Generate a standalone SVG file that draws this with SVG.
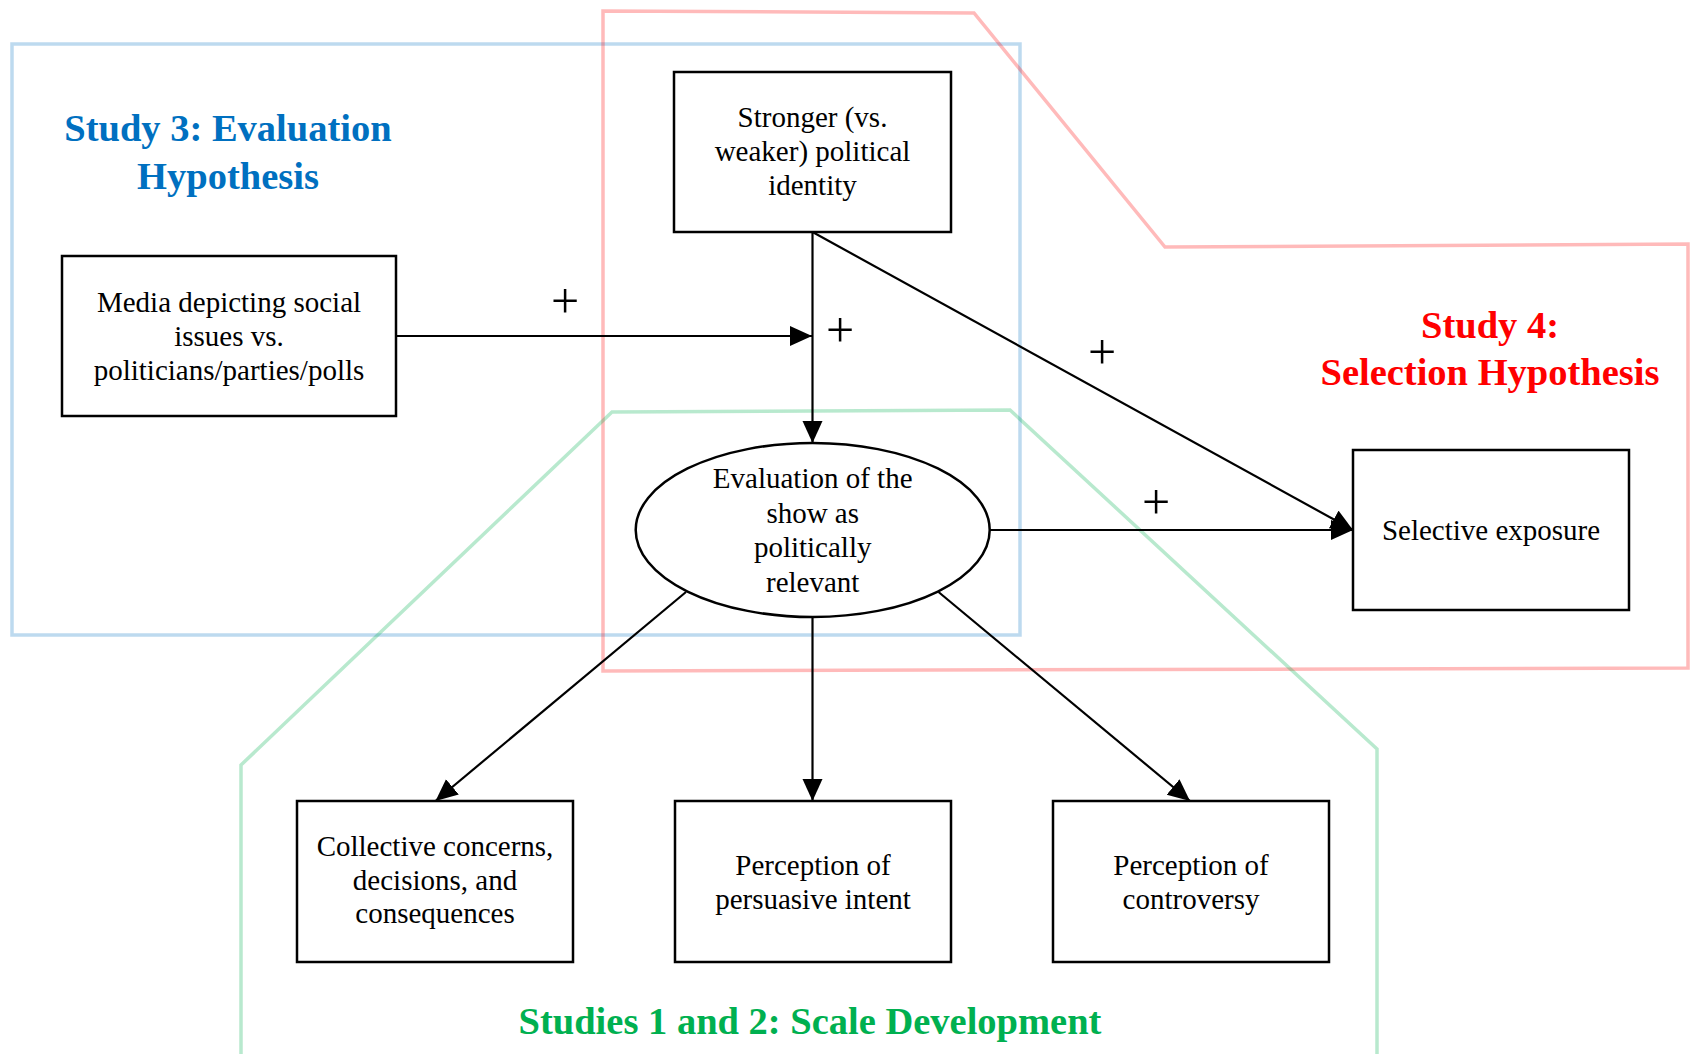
<svg xmlns="http://www.w3.org/2000/svg" width="1690" height="1054" viewBox="0 0 1690 1054">
<style>
.node{fill:#fff;stroke:#000;stroke-width:2.5}
.t{font-family:"Liberation Serif","Times New Roman",serif;font-size:29px;fill:#000;text-anchor:middle}
.title{font-family:"Liberation Serif","Times New Roman",serif;font-size:38.5px;font-weight:bold;text-anchor:middle}
.plus{font-family:"Liberation Serif","Times New Roman",serif;font-size:50px;fill:#000;text-anchor:middle}
.edge{fill:none;stroke:#000;stroke-width:2.2;marker-end:url(#ah)}
.grp{fill:none;stroke-width:3.5}
</style>
<defs>
<marker id="ah" markerUnits="userSpaceOnUse" markerWidth="24" markerHeight="22" refX="22" refY="10" orient="auto">
<path d="M0,0 L22,10 L0,20 z" fill="#000"/>
</marker>
</defs>
<rect width="1690" height="1054" fill="#fff"/>
<g id="groups">
<rect id="study3-area" class="grp" x="12" y="44" width="1008" height="591" stroke="#0070C0" stroke-opacity="0.26"/>
<polygon id="study4-area" class="grp" points="603,11 974,13 1165,247 1688,244 1688,668 603,671" stroke="#FF0000" stroke-opacity="0.27"/>
<polygon id="studies12-area" class="grp" points="612,412 1010,410 1377,749 1377,1056 241,1056 241,765" stroke="#00B050" stroke-opacity="0.28"/>
</g>
<g id="titles">
<text class="title" fill="#0070C0" x="228" y="141">Study 3: Evaluation</text>
<text class="title" fill="#0070C0" x="228" y="189">Hypothesis</text>
<text class="title" fill="#FF0000" x="1490" y="338">Study 4:</text>
<text class="title" fill="#FF0000" x="1490" y="385">Selection Hypothesis</text>
<text class="title" fill="#00B050" x="810" y="1034">Studies 1 and 2: Scale Development</text>
</g>
<g id="connectors">
<path class="edge" d="M812.5,232 L812.5,443"/>
<path class="edge" d="M396,336 L812,336"/>
<path class="edge" d="M812.5,232 L1353,530"/>
<path class="edge" d="M990,530 L1353,530"/>
<path class="edge" d="M686,592 L435.5,801"/>
<path class="edge" d="M812.5,617 L812.5,801"/>
<path class="edge" d="M938.5,592 L1190,801"/>
<text class="plus" x="565" y="318">+</text>
<text class="plus" x="840" y="347">+</text>
<text class="plus" x="1102" y="369">+</text>
<text class="plus" x="1156" y="519">+</text>
</g>
<g id="node-identity">
<rect class="node" x="674" y="72" width="277" height="160"/>
<text class="t" x="812.5" y="127">Stronger (vs.</text>
<text class="t" x="812.5" y="161">weaker) political</text>
<text class="t" x="812.5" y="195">identity</text>
</g>
<g id="node-media">
<rect class="node" x="62" y="256" width="334" height="160"/>
<text class="t" x="229" y="312">Media depicting social</text>
<text class="t" x="229" y="346">issues vs.</text>
<text class="t" x="229" y="380">politicians/parties/polls</text>
</g>
<g id="node-evaluation">
<ellipse class="node" cx="812.7" cy="530" rx="177" ry="87"/>
<text class="t" x="812.7" y="488">Evaluation of the</text>
<text class="t" x="812.7" y="522.5">show as</text>
<text class="t" x="812.7" y="557">politically</text>
<text class="t" x="812.7" y="591.5">relevant</text>
</g>
<g id="node-selective">
<rect class="node" x="1353" y="450" width="276" height="160"/>
<text class="t" x="1491" y="540">Selective exposure</text>
</g>
<g id="node-collective">
<rect class="node" x="297" y="801" width="276" height="161"/>
<text class="t" x="435" y="856">Collective concerns,</text>
<text class="t" x="435" y="889.5">decisions, and</text>
<text class="t" x="435" y="923">consequences</text>
</g>
<g id="node-persuasive">
<rect class="node" x="675" y="801" width="276" height="161"/>
<text class="t" x="813" y="875">Perception of</text>
<text class="t" x="813" y="909">persuasive intent</text>
</g>
<g id="node-controversy">
<rect class="node" x="1053" y="801" width="276" height="161"/>
<text class="t" x="1191" y="875">Perception of</text>
<text class="t" x="1191" y="909">controversy</text>
</g>
</svg>
